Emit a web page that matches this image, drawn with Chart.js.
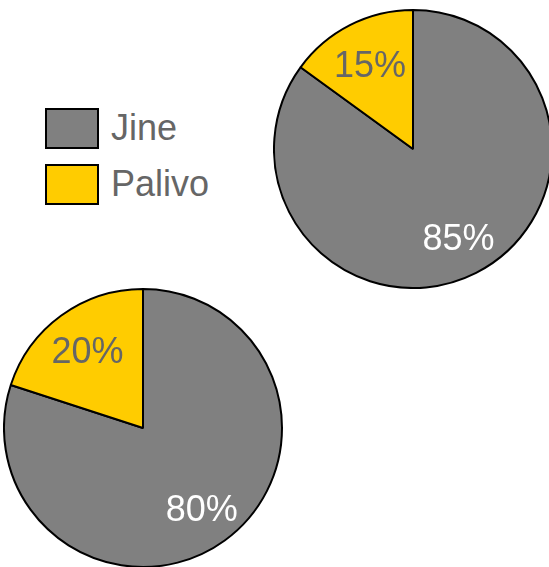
<!DOCTYPE html>
<html>
<head>
<meta charset="utf-8">
<script src="https://cdn.jsdelivr.net/npm/chart.js@4/dist/chart.umd.min.js"></script>
<style>
  html, body {
    margin: 0;
    padding: 0;
    background: #fff;
    width: 549px;
    height: 567px;
    overflow: hidden;
    position: relative;
    font-family: "Liberation Sans", Arial, sans-serif;
  }
  canvas { position: absolute; }
  #pieTop { left: 273px; top: 9px; }
  #pieBottom { left: 3px; top: 288px; }
  #legend {
    position: absolute;
    left: 45px;
    top: 100px;
  }
  .item {
    display: flex;
    align-items: center;
    height: 56px;
  }
  .swatch {
    width: 54px;
    height: 41px;
    box-sizing: border-box;
    border: 2px solid #000;
  }
  .label {
    margin-left: 12px;
    font-size: 36px;
    line-height: 1;
    color: #666;
  }
</style>
</head>
<body>
<div id="legend"></div>
<canvas id="pieTop" width="280" height="280"></canvas>
<canvas id="pieBottom" width="280" height="280"></canvas>
<script>
const categories = ['Jine', 'Palivo'];
const colors = ['#808080', '#FFCC00'];
const labelColors = ['#ffffff', '#666666'];
const topValues = [85, 15];
const bottomValues = [80, 20];

// legend built from the categories
const legend = document.getElementById('legend');
categories.forEach((name, i) => {
  const row = document.createElement('div');
  row.className = 'item';
  const sw = document.createElement('div');
  sw.className = 'swatch';
  sw.style.background = colors[i];
  const txt = document.createElement('span');
  txt.className = 'label';
  txt.textContent = name;
  row.appendChild(sw);
  row.appendChild(txt);
  legend.appendChild(row);
});

// percentage text inside each slice (big slices get pushed out a bit more)
const sliceLabels = {
  id: 'sliceLabels',
  afterDatasetsDraw(chart) {
    const ctx = chart.ctx;
    const meta = chart.getDatasetMeta(0);
    const data = chart.data.datasets[0].data;
    const total = data.reduce((a, b) => a + b, 0);
    ctx.save();
    ctx.font = '36px "Liberation Sans", Arial, sans-serif';
    ctx.textAlign = 'center';
    ctx.textBaseline = 'middle';
    meta.data.forEach((arc, i) => {
      const p = arc.getProps(['x', 'y', 'startAngle', 'endAngle', 'outerRadius'], true);
      const mid = (p.startAngle + p.endAngle) / 2;
      const r = p.outerRadius * (i === 0 ? 0.72 : 0.68);
      ctx.fillStyle = labelColors[i];
      ctx.fillText(Math.round(data[i] / total * 100) + '%', p.x + Math.cos(mid) * r, p.y + Math.sin(mid) * r + 2);
    });
    ctx.restore();
  }
};

function makePie(id, values) {
  return new Chart(document.getElementById(id), {
    type: 'pie',
    data: {
      labels: categories,
      datasets: [{
        data: values,
        backgroundColor: colors,
        borderColor: '#000',
        borderWidth: 2
      }]
    },
    options: {
      responsive: false,
      animation: false,
      plugins: {
        legend: { display: false },
        tooltip: { enabled: false }
      }
    },
    plugins: [sliceLabels]
  });
}

makePie('pieTop', topValues);
makePie('pieBottom', bottomValues);
</script>
</body>
</html>
